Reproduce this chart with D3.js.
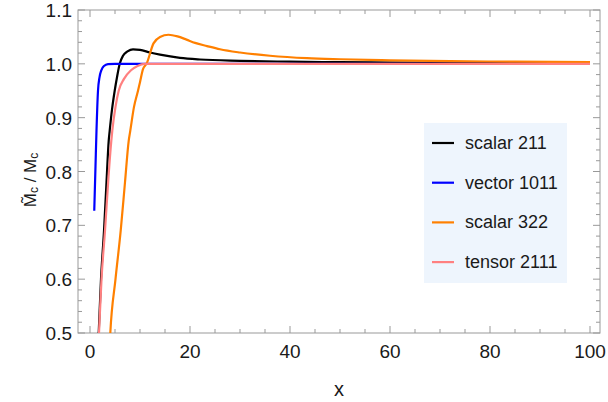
<!DOCTYPE html>
<html>
<head>
<meta charset="utf-8">
<script src="https://cdn.jsdelivr.net/npm/d3@7"></script>
<style>
  body { margin: 0; background: #fff; }
  text { font-family: "Liberation Sans", Arial, sans-serif; }
</style>
</head>
<body>
<div id="chart"></div>
<script>
const width = 608, height = 402;
const margin = {top: 10, right: 8, bottom: 70, left: 78};

// curves: [x, ratio]
const scalar211 = [[1.6,0.47],[1.74,0.5],[2.2,0.6],[2.8,0.69],[3.3,0.78],[3.74,0.857],[3.94,0.876],[4.4,0.915],[4.94,0.95],[5.4,0.975],[5.94,1.0],[6.6,1.015],[7.5,1.023],[8.6,1.027],[10,1.026],[12,1.021],[14,1.017],[18,1.011],[22,1.008],[30,1.0056],[40,1.004],[50,1.003],[70,1.002],[100,1.001]];
const vector1011 = [[0.85,0.727],[1.1,0.81],[1.3,0.876],[1.6,0.95],[1.9,0.975],[2.26,0.988],[2.8,0.996],[3.6,0.9995],[5,1.0],[100,1.0]];
const scalar322 = [[3.9,0.47],[4.06,0.5],[5.1,0.6],[6.14,0.69],[7.0,0.78],[7.74,0.857],[8.06,0.876],[8.8,0.92],[9.6,0.95],[10,0.966],[10.6,0.99],[11.3,1.0],[12.7,1.038],[14,1.05],[15.7,1.054],[17.5,1.051],[19.3,1.045],[21,1.039],[23.4,1.033],[26,1.027],[30,1.021],[36,1.015],[43.4,1.0105],[50,1.0085],[60,1.0065],[72,1.005],[85,1.004],[100,1.003]];
const tensor2111 = [[1.65,0.47],[1.8,0.5],[2.3,0.6],[3.0,0.69],[3.7,0.79],[4.26,0.857],[4.46,0.876],[5.1,0.92],[5.74,0.95],[6.8,0.972],[8.2,0.988],[9.5,0.996],[11,1.0],[100,1.0]];

const seriesNames = ["scalar 211", "vector 1011", "scalar 322", "tensor 2111"];
const seriesData = [scalar211, vector1011, scalar322, tensor2111];
const seriesColors = ["#000000", "#0000ff", "#ff8000", "#ff8080"];

const xTicks = [0, 20, 40, 60, 80, 100];
const yTicks = [0.5, 0.6, 0.7, 0.8, 0.9, 1.0, 1.1];

const svg = d3.select("#chart").append("svg")
  .attr("width", width)
  .attr("height", height);

const x = d3.scaleLinear().domain([-2.4, 102]).range([margin.left, width - margin.right]);
const y = d3.scaleLinear().domain([0.5, 1.1]).range([height - margin.bottom + 1, margin.top]);

const x0 = margin.left, x1 = width - margin.right;
const y0 = y(0.5), y1 = y(1.1);

svg.append("clipPath").attr("id", "clip")
  .append("rect")
  .attr("x", x0).attr("y", y1)
  .attr("width", x1 - x0).attr("height", y0 - y1);

// ticks on all four sides, pointing inward
const frameColor = "#999";
const xMinor = d3.range(0, 101, 5).filter(v => v % 20 !== 0);
const yMinor = d3.range(0.5, 1.1001, 0.02).filter(v => Math.abs(v * 10 - Math.round(v * 10)) > 1e-6);

const ticks = svg.append("g").attr("stroke", frameColor).attr("stroke-width", 1);
xTicks.concat(xMinor).forEach(v => {
  const len = xTicks.includes(v) ? 7 : 4;
  ticks.append("line").attr("x1", x(v)).attr("x2", x(v)).attr("y1", y0).attr("y2", y0 - len);
  ticks.append("line").attr("x1", x(v)).attr("x2", x(v)).attr("y1", y1).attr("y2", y1 + len);
});
yTicks.concat(yMinor).forEach(v => {
  const len = yTicks.some(t => Math.abs(t - v) < 1e-6) ? 7 : 4;
  ticks.append("line").attr("y1", y(v)).attr("y2", y(v)).attr("x1", x0).attr("x2", x0 + len);
  ticks.append("line").attr("y1", y(v)).attr("y2", y(v)).attr("x1", x1).attr("x2", x1 - len);
});

svg.append("rect")
  .attr("x", x0).attr("y", y1)
  .attr("width", x1 - x0).attr("height", y0 - y1)
  .attr("fill", "none")
  .attr("stroke", frameColor);

// tick labels
svg.append("g").selectAll("text")
  .data(xTicks)
  .join("text")
  .attr("x", d => x(d))
  .attr("y", y0 + 25)
  .attr("text-anchor", "middle")
  .attr("font-size", 19)
  .attr("fill", "#1a1a1a")
  .text(d => d);

svg.append("g").selectAll("text")
  .data(yTicks)
  .join("text")
  .attr("x", x0 - 6)
  .attr("y", d => y(d) + 7)
  .attr("text-anchor", "end")
  .attr("font-size", 19)
  .attr("fill", "#1a1a1a")
  .text(d => d.toFixed(1));

// axis labels
svg.append("text")
  .attr("x", (x0 + x1) / 2)
  .attr("y", 396)
  .attr("text-anchor", "middle")
  .attr("font-size", 20)
  .attr("fill", "#1a1a1a")
  .text("x");

const yl = svg.append("text")
  .attr("transform", "translate(36,180) rotate(-90)")
  .attr("text-anchor", "middle")
  .attr("font-size", 17)
  .attr("fill", "#1a1a1a");
yl.append("tspan").text("M\u0303");
yl.append("tspan").attr("font-size", 12).attr("dy", 2).text("c");
yl.append("tspan").attr("dy", -2).text(" / M");
yl.append("tspan").attr("font-size", 12).attr("dy", 2).text("c");

// curves
const line = d3.line()
  .x(d => x(d[0]))
  .y(d => y(d[1]))
  .curve(d3.curveMonotoneX);

svg.append("g").attr("clip-path", "url(#clip)")
  .selectAll("path")
  .data(seriesData)
  .join("path")
  .attr("d", line)
  .attr("fill", "none")
  .attr("stroke", (d, i) => seriesColors[i])
  .attr("stroke-width", 2.2);

// legend
const lg = svg.append("g").attr("transform", "translate(424,123)");
lg.append("rect")
  .attr("width", 143).attr("height", 160)
  .attr("fill", "#eef5fd");
seriesNames.forEach((name, i) => {
  const yy = 20 + i * 39.7;
  lg.append("line")
    .attr("x1", 8).attr("x2", 30)
    .attr("y1", yy).attr("y2", yy)
    .attr("stroke", seriesColors[i])
    .attr("stroke-width", 2.2);
  lg.append("text")
    .attr("x", 41).attr("y", yy + 6)
    .attr("font-size", 18)
    .attr("fill", "#1a1a1a")
    .text(name);
});
</script>
</body>
</html>
